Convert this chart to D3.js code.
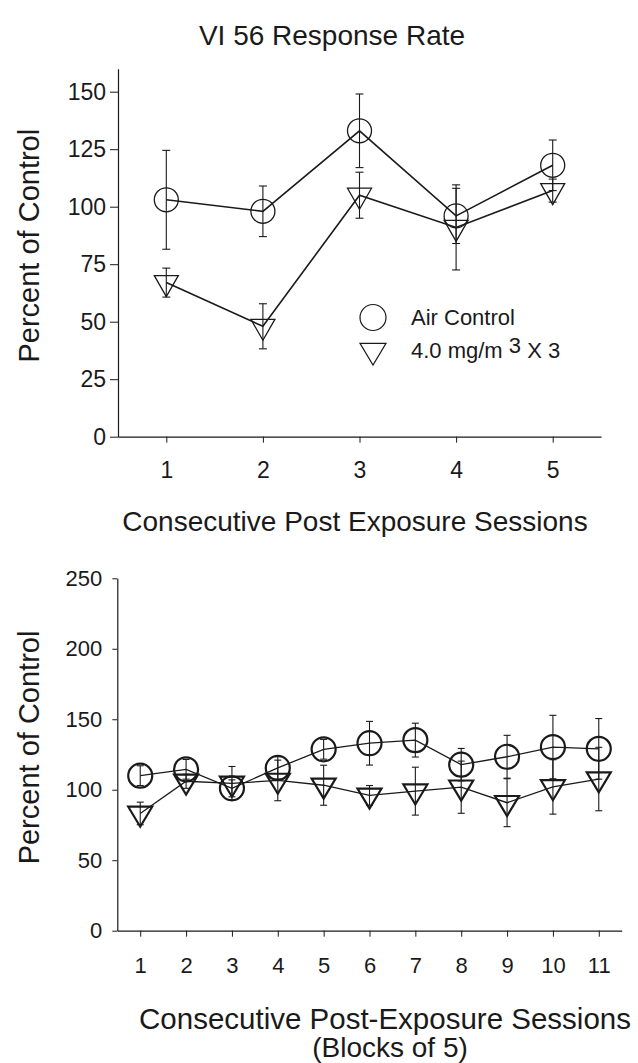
<!DOCTYPE html>
<html>
<head>
<meta charset="utf-8">
<script src="https://cdn.jsdelivr.net/npm/d3@7"></script>
<style>
  body { margin: 0; background: #fff; }
  svg { display: block; font-family: "Liberation Sans", Arial, sans-serif; }
</style>
</head>
<body>
<svg id="chart" width="638" height="1063"></svg>
<script>
// top panel: consecutive post exposure sessions
const sessions = [1, 2, 3, 4, 5];
const airTop = [103, 98, 133, 96, 118];
const airTopErr = [21.5, 11, 16, 12, 11];
const expTop = [67, 48, 105, 91, 107];
const expTopErr = [6.3, 9.8, 10, 18.5, 5];
const topTicks = [0, 25, 50, 75, 100, 125, 150];

// bottom panel: blocks of 5 sessions
const blocks = [1, 2, 3, 4, 5, 6, 7, 8, 9, 10, 11];
const airBottom = [110, 114.5, 101, 115.5, 128.7, 133, 135.2, 117.8, 123.4, 130.3, 129];
const airBottomErr = [7, 7, 6, 8, 7, 15.5, 12, 11.5, 15.2, 22.5, 21.5];
const expBottom = [83.2, 106, 104.5, 106.6, 103.2, 96, 99, 101.8, 90.8, 102, 107.6];
const expBottomErr = [8, 5, 12, 14.4, 14.2, 7, 17, 18.5, 17, 19.3, 22.5];
const bottomTicks = [0, 50, 100, 150, 200, 250];

const svg = d3.select("#chart");
const ink = "#1a1a1a";

function drawPanel(p) {
  const x = d3.scaleLinear().domain([0.5, p.xs.length + 0.5]).range([p.left, p.right]);
  const y = d3.scaleLinear().domain([0, p.yMax]).range([p.bottom, p.top]);
  const g = svg.append("g");

  const yAxis = g.append("g")
    .attr("transform", `translate(${p.left},0)`)
    .call(d3.axisLeft(y).tickValues(p.yTicks).tickFormat(d3.format("d"))
      .tickSizeInner(p.yTickLen).tickSizeOuter(0).tickPadding(p.yPad));
  const xAxis = g.append("g")
    .attr("transform", `translate(0,${p.bottom})`)
    .call(d3.axisBottom(x).tickValues(p.xs).tickFormat(d3.format("d"))
      .tickSizeInner(6).tickSizeOuter(0).tickPadding(p.xPad));
  [yAxis, xAxis].forEach(a => {
    a.select(".domain").attr("stroke", ink).attr("stroke-width", 1.2);
    a.selectAll(".tick line").attr("stroke", ink).attr("stroke-width", 1);
    a.selectAll("text").attr("fill", ink).style("font-size", p.tickFont + "px")
      .style("font-family", "Liberation Sans, Arial, sans-serif");
  });

  const series = [
    { vals: p.air, err: p.airErr, shape: "circle" },
    { vals: p.exp, err: p.expErr, shape: "tri" }
  ];

  const line = d3.line().x((d, i) => x(p.xs[i])).y(d => y(d));
  const tri = d3.line()([[-12, -p.triUp], [12, -p.triUp], [0, p.triDown]]) + "Z";

  series.forEach(s => {
    const sg = g.append("g");
    // error bars
    s.vals.forEach((v, i) => {
      const cx = x(p.xs[i]);
      const e = sg.append("g").attr("stroke", ink).attr("stroke-width", 1.1);
      e.append("line").attr("x1", cx).attr("x2", cx).attr("y1", y(v - s.err[i])).attr("y2", y(v + s.err[i]));
      [v - s.err[i], v + s.err[i]].forEach(t => {
        e.append("line").attr("x1", cx - p.cap).attr("x2", cx + p.cap).attr("y1", y(t)).attr("y2", y(t));
      });
    });
    sg.append("path").datum(s.vals).attr("d", line)
      .attr("fill", "none").attr("stroke", ink).attr("stroke-width", p.lineW);
    s.vals.forEach((v, i) => {
      const cx = x(p.xs[i]), cy = y(v);
      if (s.shape === "circle") {
        sg.append("circle").attr("cx", cx).attr("cy", cy).attr("r", 12)
          .attr("fill", "none").attr("stroke", ink).attr("stroke-width", p.markW);
      } else {
        sg.append("path").attr("d", tri).attr("transform", `translate(${cx},${cy})`)
          .attr("fill", "none").attr("stroke", ink).attr("stroke-width", p.markW);
      }
    });
  });

  // y title
  g.append("text")
    .attr("transform", `translate(${p.yTitleX},${(p.top + p.bottom) / 2 - 7}) rotate(-90)`)
    .attr("text-anchor", "middle").attr("fill", ink)
    .style("font-size", p.titleFont + "px").text("Percent of Control");

  return { x, y, g };
}

// title
svg.append("text").attr("x", 332).attr("y", 45).attr("text-anchor", "middle")
  .attr("fill", ink).style("font-size", "28px").text("VI 56 Response Rate");

const topPanel = drawPanel({
  xs: sessions, air: airTop, airErr: airTopErr, exp: expTop, expErr: expTopErr,
  yTicks: topTicks, yMax: 160, left: 118, right: 601, top: 68.7, bottom: 436.7,
  yTickLen: 8, yPad: 4, xPad: 19, tickFont: 23, cap: 4, lineW: 1.6, markW: 1.3,
  triUp: 7, triDown: 14, titleFont: 29, yTitleX: 39
});

topPanel.g.append("text").attr("x", 355).attr("y", 531).attr("text-anchor", "middle")
  .attr("fill", ink).style("font-size", "28px").text("Consecutive Post Exposure Sessions");

// legend
const leg = topPanel.g.append("g").attr("fill", ink).style("font-size", "22px");
leg.append("circle").attr("cx", 373).attr("cy", 317.5).attr("r", 13)
  .attr("fill", "none").attr("stroke", ink).attr("stroke-width", 1.2);
leg.append("path").attr("d", d3.line()([[-13, -7.2], [13, -7.2], [0, 14.5]]) + "Z")
  .attr("transform", "translate(373,350.5)")
  .attr("fill", "none").attr("stroke", ink).attr("stroke-width", 1.2);
leg.append("text").attr("x", 411).attr("y", 325).text("Air Control");
const lt = leg.append("text").attr("x", 411).attr("y", 358);
lt.append("tspan").text("4.0 mg/m ");
lt.append("tspan").attr("dy", -5).text("3");
lt.append("tspan").attr("dy", 5).text(" X 3");

const bottomPanel = drawPanel({
  xs: blocks, air: airBottom, airErr: airBottomErr, exp: expBottom, expErr: expBottomErr,
  yTicks: bottomTicks, yMax: 250, left: 117.3, right: 621.7, top: 578.3, bottom: 930.7,
  yTickLen: 5, yPad: 10, xPad: 21, tickFont: 22, cap: 3.5, lineW: 1.3, markW: 2.2,
  triUp: 6.7, triDown: 13.3, titleFont: 29, yTitleX: 39
});

bottomPanel.g.append("text").attr("x", 385).attr("y", 1029).attr("text-anchor", "middle")
  .attr("fill", ink).style("font-size", "29.5px").text("Consecutive Post-Exposure Sessions");
bottomPanel.g.append("text").attr("x", 390).attr("y", 1057).attr("text-anchor", "middle")
  .attr("fill", ink).style("font-size", "28px").text("(Blocks of 5)");
</script>
</body>
</html>
